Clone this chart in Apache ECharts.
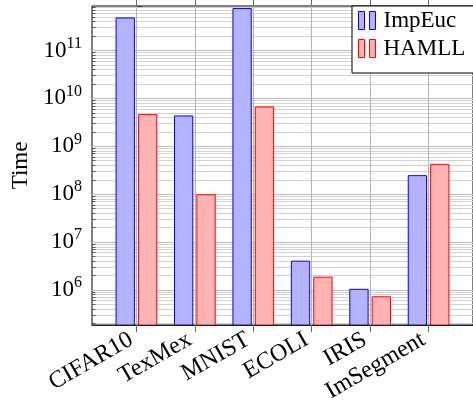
<!DOCTYPE html>
<html>
<head>
<meta charset="utf-8">
<script src="https://cdn.jsdelivr.net/npm/echarts@6/dist/echarts.min.js"></script>
<style>
  html, body { margin: 0; padding: 0; background: #fff; }
  #chart { width: 473px; height: 406px; }
</style>
</head>
<body>
<div id="chart"></div>
<script>
// Run time per dataset (log scale)
const categories = ['CIFAR10', 'TexMex', 'MNIST', 'ECOLI', 'IRIS', 'ImSegment'];
const impEuc = [4.9e11, 4.4e9, 7.7e11, 4.1e6, 1.06e6, 2.5e8];
const hamll  = [4.7e9, 1.0e8, 6.8e9, 1.9e6, 7.4e5, 4.3e8];
const seriesNames = ['ImpEuc', 'HAMLL'];
const yRange = [1.86e5, 8.5e11];
const yMajorTicks = [1e6, 1e7, 1e8, 1e9, 1e10, 1e11];
const xRange = [-0.76, 5.76];

const FONT = 'Liberation Serif';
const positions = categories.map((_, i) => i);

// minor log grid values: 2..9 times each power of ten inside the range
const yMinor = [];
for (let e = 5; e <= 11; e++) {
  for (let k = 2; k <= 9; k++) {
    const v = k * Math.pow(10, e);
    if (v > yRange[0] && v < yRange[1]) yMinor.push(v);
  }
}

const gridLines = [];
yMinor.forEach(v => gridLines.push({ yAxis: v, lineStyle: { color: '#d2d2d2', width: 1, type: 'solid' } }));
yMajorTicks.forEach(v => gridLines.push({ yAxis: v, lineStyle: { color: '#bdbdbd', width: 1, type: 'solid' } }));
positions.forEach(x => gridLines.push({ xAxis: x, lineStyle: { color: '#b5b5b5', width: 1, type: 'solid' } }));
// short inner tick stubs on the left frame for the minor values
yMinor.forEach(v => gridLines.push([
  { coord: [xRange[0], v], lineStyle: { color: '#555', width: 1, type: 'solid' } },
  { coord: [xRange[0] + 0.06, v] }
]));

function pow10Label(v) {
  const e = Math.log10(v);
  const r = Math.round(e);
  if (Math.abs(e - r) > 1e-6) return '';
  return '{b|10}{s|' + r + '}';
}

const chart = echarts.init(document.getElementById('chart'), null, { renderer: 'canvas' });

chart.setOption({
  animation: false,
  backgroundColor: '#fff',
  textStyle: { fontFamily: FONT },
  grid: {
    left: 92, top: 6, width: 384, height: 319,
    show: true, borderColor: '#000', borderWidth: 1, backgroundColor: 'transparent'
  },
  legend: {
    orient: 'vertical',
    left: 352, top: 6, z: 100,
    backgroundColor: '#fff',
    borderColor: '#000', borderWidth: 1,
    padding: [3, 40, 13, 6],
    itemGap: 5,
    itemWidth: 17, itemHeight: 18,
    textStyle: { fontFamily: FONT, fontSize: 23, color: '#000', padding: [0, 0, 0, 3] },
    data: [
      { name: seriesNames[0], icon: 'path://M0,0H6V18H0Z M11,0H17V18H11Z',
        itemStyle: { color: '#b3b3ff', borderColor: '#0000ff', borderWidth: 1 } },
      { name: seriesNames[1], icon: 'path://M0,0H6V18H0Z M11,0H17V18H11Z',
        itemStyle: { color: '#ffb3b3', borderColor: '#ff0000', borderWidth: 1 } }
    ]
  },
  xAxis: [
    {
      type: 'value', position: 'bottom', min: xRange[0], max: xRange[1],
      z: 20,
      axisLine: { show: true, onZero: false, lineStyle: { color: '#222', width: 1 } },
      axisTick: { show: true, customValues: positions, inside: false, length: 7, lineStyle: { color: '#666' } },
      axisLabel: {
        customValues: positions,
        rotate: 30, margin: 10,
        fontFamily: FONT, fontSize: 24, color: '#000',
        padding: [0, 6, 0, 0],
        formatter: v => categories[Math.round(v)] || ''
      },
      splitLine: { show: false }
    },
    {
      type: 'value', position: 'top', min: xRange[0], max: xRange[1],
      axisLine: { show: false },
      axisTick: { show: true, customValues: positions, inside: false, length: 6, lineStyle: { color: '#666' } },
      axisLabel: { show: false },
      splitLine: { show: false }
    }
  ],
  yAxis: {
    type: 'log', logBase: 10, min: yRange[0], max: yRange[1],
    name: 'Time', nameLocation: 'middle', nameGap: 60, nameRotate: 90,
    nameTextStyle: { fontFamily: FONT, fontSize: 23, color: '#000' },
    axisLine: { show: true, lineStyle: { color: '#000', width: 1 } },
    axisTick: { show: true, inside: true, length: 6, lineStyle: { color: '#333' } },
    axisLabel: {
      margin: 10,
      formatter: pow10Label,
      rich: {
        b: { fontFamily: FONT, fontSize: 23, color: '#000' },
        s: { fontFamily: FONT, fontSize: 16, color: '#000', padding: [0, 0, 14, 0] }
      }
    },
    splitLine: { show: false },
    minorTick: { show: false }
  },
  series: [
    {
      name: 'grid', type: 'line', data: [], silent: true,
      markLine: {
        silent: true, symbol: 'none', animation: false,
        label: { show: false },
        emphasis: { disabled: true },
        data: gridLines
      }
    },
    {
      name: seriesNames[0], type: 'bar', z: 10,
      barWidth: 19.3, barGap: '16%',
      itemStyle: { color: '#b3b3ff', borderColor: '#0000ff', borderWidth: 1 },
      data: positions.map(i => [i, impEuc[i]])
    },
    {
      name: seriesNames[1], type: 'bar', z: 10,
      barWidth: 19.3, barGap: '16%',
      itemStyle: { color: '#ffb3b3', borderColor: '#ff0000', borderWidth: 1 },
      data: positions.map(i => [i, hamll[i]])
    }
  ]
});
</script>
</body>
</html>
